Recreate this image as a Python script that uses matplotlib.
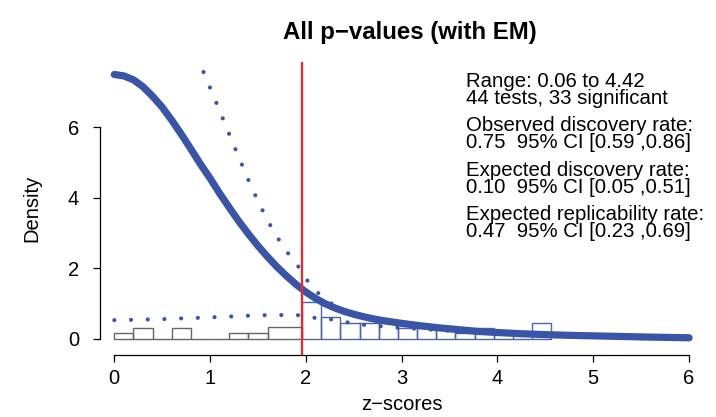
import matplotlib
matplotlib.use("Agg")
import matplotlib.pyplot as plt
import numpy as np

plt.rcParams['font.family'] = ['Liberation Sans', 'DejaVu Sans']

# ---- data ----
ns_edges = [0.0, 0.2, 0.4, 0.6, 0.8, 1.0, 1.2, 1.4, 1.6, 1.96]
ns_density = [0.15, 0.30, 0.0, 0.30, 0.0, 0.0, 0.15, 0.15, 0.33]

sig_edges = [1.96, 2.16, 2.36, 2.56, 2.76, 2.96, 3.16, 3.36, 3.56, 3.76, 3.96, 4.16, 4.36, 4.56]
sig_density = [1.05, 0.60, 0.45, 0.45, 0.45, 0.30, 0.30, 0.30, 0.15, 0.30, 0.15, 0.0, 0.45]

fit_z = [0.0, 0.1, 0.2, 0.3, 0.4, 0.5, 0.6, 0.7, 0.8, 0.9, 1.0, 1.1, 1.2, 1.3, 1.4,
         1.5, 1.6, 1.7, 1.8, 1.9, 2.0, 2.1, 2.2, 2.3, 2.4, 2.5, 2.6, 2.7, 2.8, 2.9,
         3.0, 3.2, 3.4, 3.6, 3.8, 4.0, 4.25, 4.5, 4.75, 5.0, 5.25, 5.5, 5.75, 6.0]
fit_density = [7.50, 7.46, 7.35, 7.15, 6.88, 6.57, 6.20, 5.80, 5.38, 4.95, 4.55, 4.12,
               3.72, 3.33, 2.97, 2.63, 2.32, 2.03, 1.77, 1.53, 1.32, 1.14, 0.99, 0.87,
               0.77, 0.69, 0.62, 0.56, 0.51, 0.47, 0.43, 0.36, 0.30, 0.25, 0.20, 0.17,
               0.135, 0.11, 0.09, 0.075, 0.06, 0.045, 0.032, 0.02]

upper_z = [0.8, 0.9, 1.0, 1.1, 1.2, 1.3, 1.4, 1.5, 1.6, 1.7, 1.8, 1.9, 1.96, 2.05,
           2.18, 2.32, 2.48, 2.65, 2.83, 3.0, 3.25, 3.5, 3.75, 4.0, 4.5, 5.0, 5.5, 6.0]
upper_density = [8.45, 7.78, 7.12, 6.47, 5.8, 5.15, 4.5, 3.9, 3.35, 2.88, 2.47, 2.12, 1.9, 1.49,
                 1.16, 0.89, 0.72, 0.59, 0.51, 0.45, 0.37, 0.30, 0.24, 0.19, 0.13, 0.09, 0.06, 0.03]

lower_z = [0.0, 0.5, 1.0, 1.5, 1.9, 2.08, 2.25, 2.43, 2.6, 2.8, 3.0, 3.5, 4.0, 4.5, 5.0, 5.5, 6.0]
lower_density = [0.52, 0.55, 0.60, 0.66, 0.67, 0.59, 0.55, 0.46, 0.39, 0.34, 0.30, 0.22, 0.14,
                 0.09, 0.05, 0.03, 0.015]

crit_z = 1.96
x_ticks = [0, 1, 2, 3, 4, 5, 6]
y_ticks = [0, 2, 4, 6]

title = "All p\u2212values (with EM)"
x_label = "z\u2212scores"
y_label = "Density"
info_lines = [
    ("Range: 0.06 to 4.42", "44 tests, 33 significant"),
    ("Observed discovery rate:", "0.75  95% CI [0.59 ,0.86]"),
    ("Expected discovery rate:", "0.10  95% CI [0.05 ,0.51]"),
    ("Expected replicability rate:", "0.47  95% CI [0.23 ,0.69]"),
]

BLUE = "#3A55A8"
W, H = 716, 417
fig = plt.figure(figsize=(W / 100, H / 100), dpi=100)
L, R, T, B = 100, 703, 62, 355
ax = fig.add_axes([L / W, 1 - B / H, (R - L) / W, (B - T) / H])

x0 = (L - 114.3) / 95.8
x1 = (R - 114.3) / 95.8
ax.set_xlim(x0, x1)
ax.set_ylim(-(B - 338.5) / 35.2, (338.5 - T) / 35.2)

# histogram
ax.bar(ns_edges[:-1], ns_density, width=np.diff(ns_edges), align='edge',
       fill=False, edgecolor="#666666", linewidth=1.0)
ax.bar(sig_edges[:-1], sig_density, width=np.diff(sig_edges), align='edge',
       fill=False, edgecolor="#4A63B0", linewidth=1.0)

# curves
dot_style = (0, (0.01, 4.0))
ax.plot(lower_z, lower_density, color=BLUE, linewidth=3.0,
        linestyle=dot_style, dash_capstyle='round')
ax.plot(upper_z, upper_density, color=BLUE, linewidth=3.0,
        linestyle=dot_style, dash_capstyle='round')
ax.plot(fit_z, fit_density, color=BLUE, linewidth=5.2,
        solid_capstyle='round', solid_joinstyle='round')

ax.axvline(crit_z, color="#FF2020", linewidth=1.6)

# axes styling
for s in ['top', 'right']:
    ax.spines[s].set_visible(False)
ax.spines['left'].set_bounds(0, 6)
ax.spines['bottom'].set_bounds(0, 6)
for s in ['left', 'bottom']:
    ax.spines[s].set_linewidth(0.9)
ax.set_xticks(x_ticks)
ax.set_yticks(y_ticks)
ax.tick_params(direction='out', length=5, width=0.9, labelsize=14.5)
ax.tick_params(axis='x', pad=5)
ax.tick_params(axis='y', pad=10)

ax.set_xlabel(x_label, fontsize=14.5, labelpad=5)
ax.set_ylabel(y_label, fontsize=14.5, labelpad=19)
fig.text(410 / W, 1 - 32 / H, title, fontsize=17.3, fontweight='bold',
         ha='center', va='center')

# info text: each pair as one two-line text block (baseline = last line)
baselines = [104, 148, 193, 237]
for (l1, l2), b in zip(info_lines, baselines):
    fig.text(466 / W, 1 - b / H, l1 + "\n" + l2, fontsize=14.7, ha='left',
             va='baseline', linespacing=0.88)

fig.savefig("out.png", dpi=100)
